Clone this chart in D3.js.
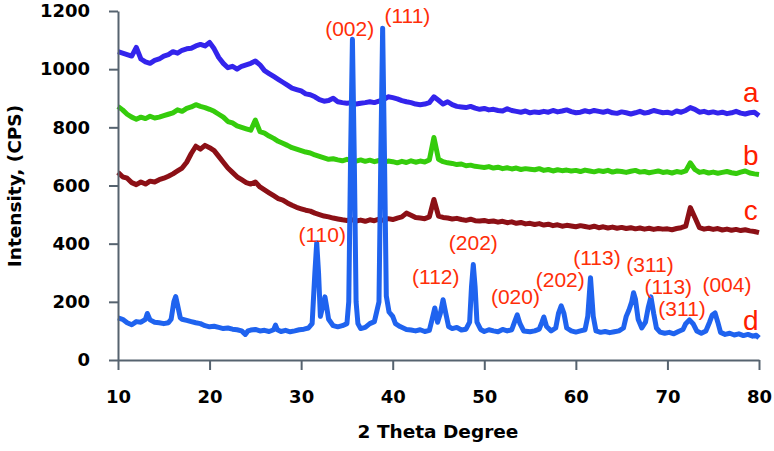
<!DOCTYPE html>
<html>
<head>
<meta charset="utf-8">
<script src="https://cdn.jsdelivr.net/npm/d3@7"></script>
<style>
  body { margin: 0; background: #fff; }
  .axis path, .axis line { stroke: #56636f; stroke-width: 2; }
  .axis text { font: bold 18px "DejaVu Sans", sans-serif; fill: #000; }
</style>
</head>
<body>
<svg id="chart" width="774" height="451"></svg>
<script>
// 2 theta grid for the three amorphous patterns (every 0.5 degree)
var thetaGrid = d3.range(10, 80.001, 0.5);

var seriesA = [
  1060,1055,1050,1045,1075,1035,1025,1020,1030,1035,
  1045,1050,1060,1055,1065,1070,1072,1080,1085,1080,
  1092,1070,1040,1020,1005,1010,1000,1010,1015,1020,
  1028,1015,995,985,975,965,955,945,935,930,
  925,915,912,905,895,890,892,900,888,885,
  883,885,880,883,885,888,885,890,895,905,
  902,898,892,888,885,880,878,880,885,905,
  893,880,888,878,872,870,868,872,866,862,
  865,860,862,858,856,864,858,855,852,856,
  850,853,851,855,852,858,853,856,860,854,
  850,852,857,853,858,855,852,856,850,848,
  853,850,846,850,855,849,852,858,854,850,
  852,848,856,852,858,868,862,852,855,850,
  853,849,852,847,850,855,849,846,850,852,
  840
];

var seriesB = [
  872,860,845,835,828,835,830,838,832,835,
  840,845,850,860,855,865,870,878,872,868,
  862,855,845,835,820,815,805,800,795,790,
  825,785,780,770,762,752,745,738,730,725,
  720,715,712,705,700,695,690,692,688,685,
  690,686,684,688,683,687,682,686,680,684,
  682,678,683,679,685,680,684,681,688,765,
  690,682,678,676,672,674,668,670,666,664,
  662,665,660,663,658,661,657,660,655,658,
  656,654,658,652,655,650,654,651,653,650,
  652,648,653,650,647,651,648,652,646,650,
  648,645,649,652,646,648,644,647,650,645,
  647,643,648,645,650,678,655,645,648,643,
  646,642,645,648,644,641,646,650,643,640,
  638
];

var seriesC = [
  645,630,625,610,603,612,605,615,612,620,
  625,632,640,650,660,680,710,735,725,738,
  730,720,700,680,660,645,630,620,610,605,
  612,595,585,575,565,555,550,540,532,525,
  520,515,512,505,500,495,492,488,485,482,
  480,483,478,481,477,482,479,484,480,486,
  483,488,492,505,498,490,488,486,492,552,
  495,490,488,485,487,483,480,484,479,478,
  480,476,478,474,477,472,475,470,473,468,
  470,466,469,464,467,462,465,460,463,461,
  458,462,459,456,460,455,458,454,457,453,
  456,452,455,451,454,450,453,449,452,450,
  451,448,452,455,460,524,490,455,450,453,
  449,452,447,450,446,449,445,448,444,442,
  438
];

// crystalline pattern d: [2 theta, intensity]
var seriesD = [
  [10,145],[10.5,140],[11,128],[11.5,121],[12,132],[12.5,130],[13,140],[13.2,160],[13.5,138],[14,130],
  [14.5,128],[15,125],[15.5,128],[15.8,140],[16.1,200],[16.3,218],[16.5,190],[16.8,145],[17,140],[17.5,136],
  [18,132],[18.5,128],[19,125],[19.5,118],[20,114],[20.5,116],[21,112],[21.5,108],[22,110],[22.5,106],
  [23,104],[23.5,100],[23.9,88],[24.2,100],[24.5,103],[25,105],[25.5,100],[26,102],[26.5,98],[27,104],
  [27.2,120],[27.4,104],[27.8,98],[28.3,102],[28.8,97],[29.3,100],[29.8,104],[30.3,106],[30.8,110],[31.2,125],
  [31.5,300],[31.7,403],[31.9,300],[32.1,150],[32.4,190],[32.6,217],[32.8,180],[33,140],[33.5,118],[34,114],
  [34.5,118],[35,125],[35.2,200],[35.4,700],[35.6,1103],[35.8,700],[36,200],[36.2,125],[36.5,108],[37,112],
  [37.5,125],[38,132],[38.5,200],[38.7,700],[38.9,1141],[39.1,700],[39.3,220],[39.6,165],[40,150],[40.3,125],
  [40.8,115],[41.5,105],[42,103],[42.5,100],[43,104],[43.5,98],[44,102],[44.3,140],[44.6,179],[44.9,130],
  [45.2,160],[45.5,207],[45.8,160],[46.1,115],[46.5,108],[47,112],[47.5,103],[48,106],[48.4,130],[48.6,250],
  [48.8,328],[49,250],[49.2,130],[49.6,105],[50,98],[50.5,104],[51,100],[51.5,97],[52,105],[52.5,100],
  [53,104],[53.3,130],[53.6,155],[53.9,125],[54.3,100],[55,97],[55.5,100],[56,106],[56.3,130],[56.5,148],
  [56.8,115],[57.3,100],[57.8,110],[58.1,160],[58.4,186],[58.7,160],[59,110],[59.5,100],[60,96],[60.5,100],
  [61,104],[61.3,150],[61.6,283],[61.9,150],[62.2,100],[62.7,95],[63.2,98],[63.7,94],[64.2,97],[64.7,100],
  [65.2,110],[65.5,150],[65.8,172],[66.1,200],[66.3,231],[66.5,210],[66.8,140],[67.2,110],[67.6,130],[67.9,180],
  [68.2,217],[68.5,160],[68.8,110],[69.2,96],[69.7,92],[70.2,95],[70.7,90],[71.2,98],[71.7,105],[72,125],
  [72.4,138],[72.8,125],[73.2,100],[73.7,92],[74.2,100],[74.6,130],[74.9,155],[75.2,162],[75.5,130],[75.8,95],
  [76.3,88],[76.8,92],[77.3,86],[77.8,90],[78.3,84],[78.8,88],[79.3,82],[79.7,85],[80,76]
];

// peak labels: text, 2 theta, intensity (label centre)
var peakLabels = [
  ["(002)", 35.3, 1141], ["(111)", 41.6, 1186], ["(110)", 32.3, 431],
  ["(202)", 48.8, 403], ["(112)", 44.7, 286], ["(020)", 53.4, 217],
  ["(202)", 58.3, 276], ["(113)", 62.3, 352], ["(311)", 68.1, 328],
  ["(113)", 70.1, 252], ["(311)", 71.6, 179], ["(004)", 76.5, 259]
];

// sample letters: text, 2 theta, intensity (baseline)
var sampleLetters = [["a", 79.1, 888], ["b", 79.1, 669], ["c", 79.1, 483], ["d", 79.1, 103]];

var xTicks = [10, 20, 30, 40, 50, 60, 70, 80];
var yTicks = [0, 200, 400, 600, 800, 1000, 1200];

var svg = d3.select("#chart");
var x = d3.scaleLinear().domain([10, 80]).range([118, 759]);
var y = d3.scaleLinear().domain([0, 1200]).range([360, 11]);

var line = d3.line()
    .x(function(d) { return x(d[0]); })
    .y(function(d) { return y(d[1]); });

function pairs(vals) {
  return vals.map(function(v, i) { return [thetaGrid[i], v]; });
}

var curves = [
  {id: "a", color: "#3324ec", data: pairs(seriesA)},
  {id: "b", color: "#35cc0c", data: pairs(seriesB)},
  {id: "c", color: "#8c1016", data: pairs(seriesC)},
  {id: "d", color: "#1f63ef", data: seriesD}
];

svg.selectAll(".curve")
  .data(curves)
  .enter().append("path")
  .attr("class", "curve")
  .attr("d", function(d) { return line(d.data); })
  .style("fill", "none")
  .style("stroke", function(d) { return d.color; })
  .style("stroke-width", 5)
  .style("stroke-linejoin", "round");

svg.append("g")
  .attr("class", "axis")
  .attr("transform", "translate(0,360)")
  .call(d3.axisBottom(x).tickValues(xTicks).tickSize(10).tickSizeOuter(0).tickPadding(20));

svg.append("g")
  .attr("class", "axis")
  .attr("transform", "translate(118,0)")
  .call(d3.axisLeft(y).tickValues(yTicks).tickFormat(d3.format("d"))
    .tickSize(9).tickSizeOuter(0).tickPadding(19));

svg.append("text")
  .attr("x", 438)
  .attr("y", 438)
  .attr("text-anchor", "middle")
  .style("font", "bold 18.5px 'DejaVu Sans', sans-serif")
  .text("2 Theta Degree");

svg.append("text")
  .attr("transform", "translate(14,186) rotate(-90)")
  .attr("text-anchor", "middle")
  .attr("dy", "0.36em")
  .style("font", "bold 18.5px 'DejaVu Sans', sans-serif")
  .text("Intensity, (CPS)");

svg.selectAll(".peak")
  .data(peakLabels)
  .enter().append("text")
  .attr("class", "peak")
  .attr("x", function(d) { return x(d[1]); })
  .attr("y", function(d) { return y(d[2]); })
  .attr("dy", "0.36em")
  .attr("text-anchor", "middle")
  .style("font", "21px 'Liberation Sans', Arial, sans-serif")
  .style("fill", "#ff2e08")
  .text(function(d) { return d[0]; });

svg.selectAll(".letter")
  .data(sampleLetters)
  .enter().append("text")
  .attr("class", "letter")
  .attr("x", function(d) { return x(d[1]); })
  .attr("y", function(d) { return y(d[2]); })
  .attr("text-anchor", "middle")
  .style("font", "28px 'Liberation Sans', Arial, sans-serif")
  .style("fill", "#ff1e00")
  .text(function(d) { return d[0]; });
</script>
</body>
</html>
